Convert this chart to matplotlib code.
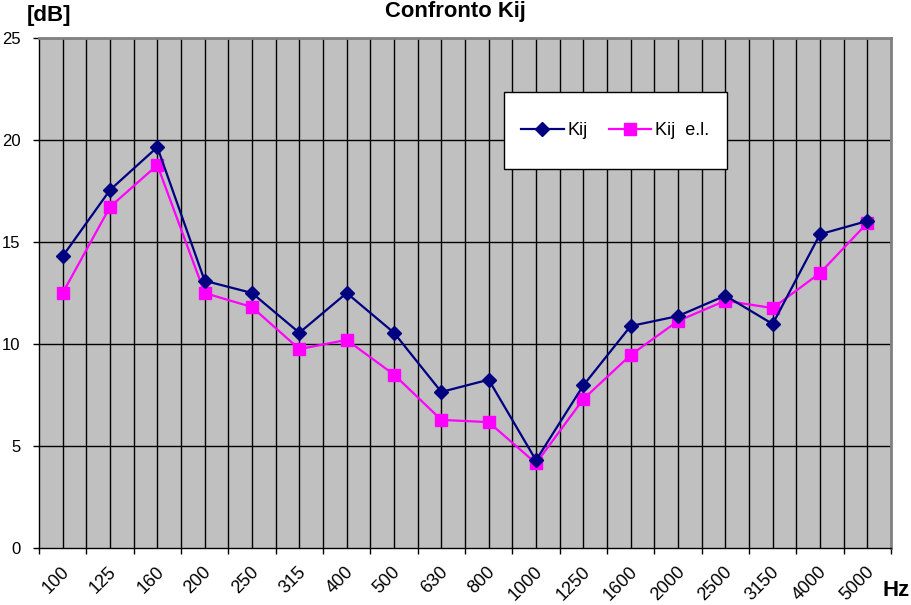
import numpy as np
import matplotlib
matplotlib.use('Agg')
import matplotlib.pyplot as plt
from matplotlib.patches import Rectangle
from matplotlib.transforms import ScaledTranslation

plt.rcParams['font.family'] = ['Liberation Sans', 'DejaVu Sans']

# Dati
freq = ['100', '125', '160', '200', '250', '315', '400', '500', '630', '800',
        '1000', '1250', '1600', '2000', '2500', '3150', '4000', '5000']
kij = [14.3, 17.55, 19.65, 13.1, 12.5, 10.55, 12.5, 10.55, 7.65, 8.25,
       4.3, 7.97, 10.88, 11.37, 12.37, 10.98, 15.38, 16.03]
kij_el = [12.5, 16.72, 18.77, 12.5, 11.81, 9.75, 10.2, 8.5, 6.28, 6.17,
          4.15, 7.3, 9.46, 11.13, 12.12, 11.76, 13.48, 15.93]

BLU = '#000080'
MAGENTA = '#FF00FF'

fig = plt.figure(figsize=(9.11, 6.05), dpi=100)
ax = fig.add_axes([39/911, 57/605, 852/911, 510/605])
ax.set_facecolor('#C0C0C0')

x = np.arange(len(freq))
ax.set_xlim(-0.5, len(freq) - 0.5)
ax.set_ylim(0, 25)

# Griglia: verticale ogni mezza categoria, orizzontale ogni 5 dB
for v in np.arange(-0.5, len(freq), 0.5)[1:-1]:
    ax.axvline(v, color='black', lw=1.0, zorder=1)
for h in range(5, 25, 5):
    ax.axhline(h, color='black', lw=1.0, zorder=1)

# Serie
l1, = ax.plot(x, kij, color=BLU, lw=1.6, marker='D', ms=7,
              mfc=BLU, mec=BLU, label='Kij', zorder=4)
l2, = ax.plot(x, kij_el, color=MAGENTA, lw=1.6, marker='s', ms=8.5,
              mfc=MAGENTA, mec=MAGENTA, label='Kij  e.l.', zorder=3)

# Assi
ax.set_yticks(range(0, 26, 5))
ax.tick_params(axis='y', direction='out', length=4.3, width=1,
               labelsize=12, pad=9)
ax.set_xticks(np.arange(-0.5, len(freq), 1.0))
ax.set_xticklabels([])
ax.set_xticks(x, minor=True)
ax.set_xticklabels(freq, minor=True, rotation=45, ha='right', va='center',
                   rotation_mode='anchor', fontsize=13)
ax.tick_params(axis='x', which='major', direction='out', length=4.3, width=1)
ax.tick_params(axis='x', which='minor', length=0, pad=15.5)
sposta = ScaledTranslation(4/100, 0, fig.dpi_scale_trans)
for lab in ax.get_xticklabels(minor=True):
    lab.set_transform(lab.get_transform() + sposta)

for s in ['top', 'right']:
    ax.spines[s].set_color('#808080')
    ax.spines[s].set_linewidth(2)
for s in ['left', 'bottom']:
    ax.spines[s].set_color('black')
    ax.spines[s].set_linewidth(1)

# Testi
fig.text(0.5, 1 - 12/605, 'Confronto Kij', ha='center', va='center',
         fontsize=15.8, fontweight='bold')
fig.text(27/911, 1 - 15/605, '[dB]', ha='left', va='center',
         fontsize=16, fontweight='bold')
fig.text(883/911, 1 - 590/605, 'Hz', ha='left', va='center',
         fontsize=16, fontweight='bold')

# Legenda
x0 = (504 - 39) / 852
y0 = (548 - 169) / 510
w = 223 / 852
h = 77 / 510
ax.add_patch(Rectangle((x0, y0), w, h, transform=ax.transAxes,
                       facecolor='white', edgecolor='black', lw=1, zorder=5))
leg = ax.legend(handles=[l1, l2], loc='center', ncol=2, frameon=False,
                bbox_to_anchor=(x0 + w/2, y0 + h/2), fontsize=13,
                handlelength=2.33, handletextpad=0.22, columnspacing=1.2)
leg.set_zorder(6)

fig.savefig('out.png', dpi=100)
